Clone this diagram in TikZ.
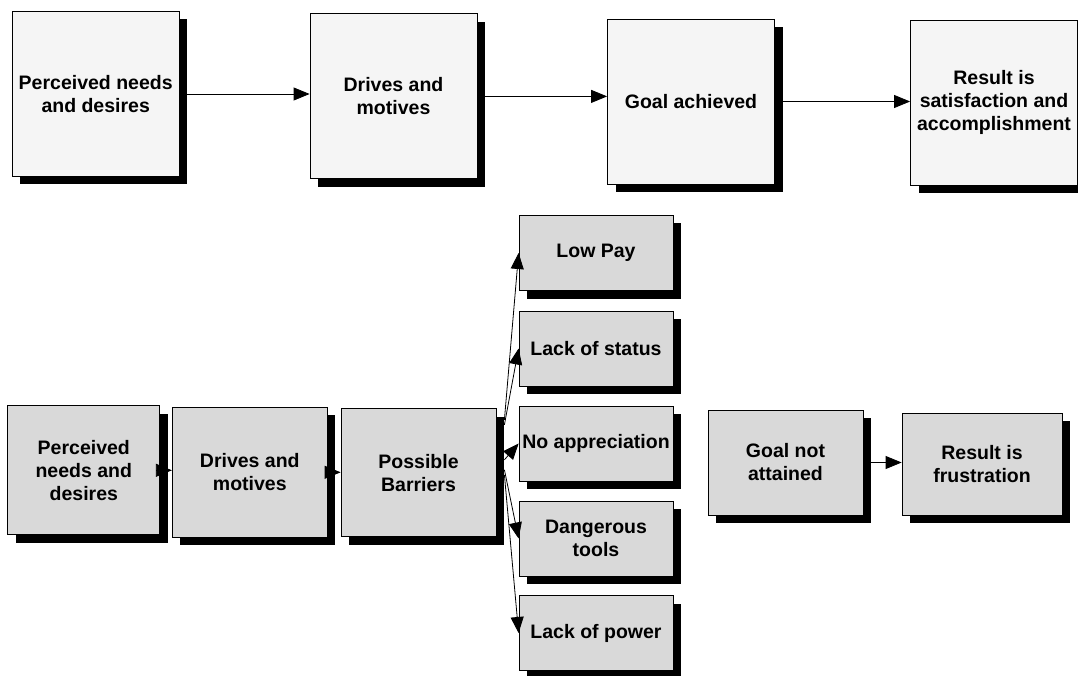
\documentclass[tikz,border=0pt]{standalone}
\usepackage{fontspec}
\setmainfont{Liberation Sans}
\usetikzlibrary{arrows.meta,shadows}

\begin{document}
\begin{tikzpicture}[x=1pt, y=-1pt,
  >={Triangle[length=16pt,width=13pt]},
  box/.style={draw=black, line width=0.8pt, fill=gray!8, align=center,
    inner sep=2pt, font=\bfseries\fontsize{19.5}{23}\selectfont,
    drop shadow={shadow xshift=8pt, shadow yshift=-8pt, fill=black, opacity=1}},
  dotbox/.style={box, fill=gray!30},
  barrier/.style={dotbox, minimum width=154pt, minimum height=75pt}]
  \useasboundingbox (0,0) rectangle (1078,676);
  \clip (0,0) rectangle (1078,676);

  % goal reached
  \node[box, minimum width=167pt, minimum height=165pt] (NEEDS) at (95.7,94) {Perceived needs\\and desires};
  \node[box, minimum width=167pt, minimum height=165pt] (DRIVES) at (393.5,96.4) {Drives and\\motives};
  \node[box, minimum width=167pt, minimum height=165pt] (GOAL) at (691,101.5) {Goal achieved};
  \node[box, minimum width=167pt, minimum height=165pt] (SATIS) at (994,102.5) {Result is\\satisfaction and\\accomplishment};

  \draw[->, line width=0.8pt] (NEEDS.east) -- (NEEDS.east -| DRIVES.west);
  \draw[->, line width=0.8pt] (DRIVES.east) -- (DRIVES.east -| GOAL.west);
  \draw[->, line width=0.8pt] (GOAL.east) -- (GOAL.east -| SATIS.west);

  % goal blocked
  \node[dotbox, minimum width=152pt, minimum height=129pt] (NEEDSB) at (83.8,470.3) {Perceived\\needs and\\desires};
  \node[dotbox, minimum width=155pt, minimum height=130pt] (DRIVESB) at (249.8,472.3) {Drives and\\motives};
  \node[dotbox, minimum width=155pt, minimum height=128pt] (BARRIERS) at (418.5,472.8) {Possible\\Barriers};

  \node[barrier] (LOWPAY) at (596,253) {Low Pay};
  \node[barrier] (STATUS) at (596,348.5) {Lack of status};
  \node[barrier] (APPREC) at (596,443.5) {No appreciation};
  \node[barrier] (DANGER) at (596,538.5) {Dangerous\\tools};
  \node[barrier] (POWER) at (596,633) {Lack of power};

  \node[dotbox, minimum width=155pt, minimum height=105pt] (NOTGOAL) at (785.5,462.5) {Goal not\\attained};
  \node[dotbox, minimum width=160pt, minimum height=102pt] (FRUST) at (982,464) {Result is\\frustration};

  \draw[->, line width=0.8pt] (NEEDSB.east) -- (NEEDSB.east -| DRIVESB.west);
  \draw[->, line width=0.8pt] (DRIVESB.east) -- (DRIVESB.east -| BARRIERS.west);

  \draw[->, line width=0.8pt] ([xshift=8pt,yshift=53pt]BARRIERS.east) -- (LOWPAY.west);
  \draw[->, line width=0.8pt] ([xshift=8pt,yshift=48pt]BARRIERS.east) -- (STATUS.west);
  \draw[->, line width=0.8pt] ([xshift=8pt,yshift=13pt]BARRIERS.east) -- (APPREC.west);
  \draw[->, line width=0.8pt] ([xshift=8pt,yshift=3pt]BARRIERS.east) -- (DANGER.west);
  \draw[->, line width=0.8pt] ([xshift=8pt,yshift=-2pt]BARRIERS.east) -- (POWER.west);

  \draw[->, line width=0.8pt] (NOTGOAL.east) -- (NOTGOAL.east -| FRUST.west);
\end{tikzpicture}
\end{document}
